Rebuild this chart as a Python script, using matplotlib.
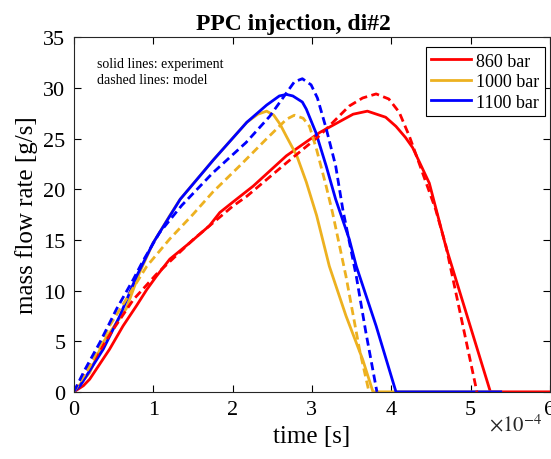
import numpy as np
import matplotlib
matplotlib.use("Agg")
import matplotlib.pyplot as plt

plt.rcParams['font.family'] = ['Liberation Serif', 'DejaVu Serif']
plt.rcParams['mathtext.fontset'] = 'stix'

# time in units of 1e-4 s, mass flow rate in g/s
t_860_exp = [0, 0.12, 0.2, 0.45, 0.62, 0.79, 0.92, 1.04, 1.21, 1.46, 1.71, 1.84, 2.0, 2.26,
             2.68, 3.1, 3.52, 3.7, 3.93, 4.06, 4.18, 4.27, 4.48, 4.69, 5.25, 6.0]
m_860_exp = [0, 0.6, 1.25, 4.2, 6.5, 8.5, 10.1, 11.4, 13.1, 14.7, 16.4, 17.7, 18.7, 20.3,
             23.3, 25.6, 27.4, 27.7, 27.1, 26.2, 25.1, 24.1, 20.6, 14.3, 0, 0]

t_860_mod = [0, 0.12, 0.29, 0.5, 0.75, 1.04, 1.5, 2.0, 2.18, 2.68, 3.1, 3.47, 3.64,
             3.81, 3.97, 4.1, 4.23, 4.35, 4.56, 4.69, 5.08]
m_860_mod = [0, 1.6, 3.6, 6.2, 9.1, 11.6, 15.0, 18.3, 19.3, 22.6, 25.3, 28.2, 29.0,
             29.4, 28.9, 27.6, 25.2, 22.6, 18.0, 14.4, 0]

t_1000_exp = [0, 0.2, 0.37, 0.66, 0.83, 1.0, 1.21, 1.34, 1.76, 2.18, 2.32, 2.43, 2.52, 2.6,
              2.68, 2.81, 2.93, 3.06, 3.22, 3.43, 3.64, 3.77, 5.38]
m_1000_exp = [0, 1.9, 4.9, 8.2, 11.8, 14.7, 17.4, 19.0, 22.9, 26.6, 27.4, 27.7, 27.3, 26.4,
              25.2, 23.3, 20.7, 17.4, 12.4, 7.5, 3.2, 0, 0]

t_1000_mod = [0, 0.2, 0.45, 0.92, 1.21, 1.5, 1.75, 2.09, 2.42, 2.68, 2.78, 2.89, 2.97,
              3.06, 3.18, 3.26, 3.43, 3.6, 3.72]
m_1000_mod = [0, 2.5, 6.5, 12.4, 15.1, 17.5, 19.7, 22.3, 24.9, 26.9, 27.3, 27.0, 26.2,
              23.9, 20.3, 17.7, 11.4, 4.2, 0]

t_1100_exp = [0, 0.08, 0.37, 0.58, 0.79, 1.0, 1.34, 1.76, 2.18, 2.43, 2.59, 2.68, 2.76,
              2.88, 2.93, 3.05, 3.18, 3.3, 3.47, 3.56, 3.81, 4.06, 5.38]
m_1100_exp = [0, 0.6, 4.2, 7.5, 11.4, 14.7, 19.0, 22.9, 26.6, 28.3, 29.2, 29.35, 29.2,
              28.6, 27.9, 25.6, 22.3, 19.0, 15.1, 12.4, 6.5, 0, 0]

t_1100_mod = [0, 0.14, 0.33, 0.54, 0.75, 0.87, 1.08, 1.36, 1.75, 2.17, 2.47, 2.68, 2.78,
              2.88, 2.99, 3.07, 3.18, 3.3, 3.39, 3.56, 3.68, 3.82]
m_1100_mod = [0, 2.2, 4.9, 8.2, 11.1, 12.9, 15.7, 18.4, 21.6, 24.6, 27.2, 29.5, 30.6,
              30.9, 30.3, 29.0, 26.0, 22.3, 18.0, 11.4, 5.9, 0]

labels = ['860 bar', '1000 bar', '1100 bar']
colors = ['#ff0000', '#edb120', '#0000ff']

fig = plt.figure(figsize=(5.51, 4.6), dpi=100)
ax = fig.add_axes([0.134, 0.146, 0.864, 0.771])

exp = [(t_860_exp, m_860_exp), (t_1000_exp, m_1000_exp), (t_1100_exp, m_1100_exp)]
mod = [(t_860_mod, m_860_mod), (t_1000_mod, m_1000_mod), (t_1100_mod, m_1100_mod)]

for (t, m), c, lab in zip(exp, colors, labels):
    ax.plot(np.array(t) * 1e-4, m, color=c, lw=2, label=lab)
for (t, m), c in zip(mod, colors):
    ax.plot(np.array(t) * 1e-4, m, color=c, lw=2, linestyle=(0, (2.9, 1.6)))

ax.set_xlim(0, 6e-4)
ax.set_ylim(0, 35)
ax.set_xticks(np.arange(0, 7) * 1e-4)
ax.set_xticklabels([str(i) for i in range(7)])
ax.set_yticks(np.arange(0, 36, 5))
ax.tick_params(direction='in', top=True, right=True, labelsize=16, length=5, width=0.8, pad=6)
for s in ax.spines.values():
    s.set_linewidth(0.8)
    s.set_color('#262626')

ax.set_title('PPC injection, di#2', fontsize=17, fontweight='bold', x=0.462, pad=6)
ax.set_xlabel('time [s]', fontsize=18, labelpad=4)
ax.set_ylabel('mass flow rate [g/s]', fontsize=18, labelpad=4)

ax.text(0.048, 0.945, 'solid lines: experiment\ndashed lines: model', transform=ax.transAxes,
        fontsize=10, va='top', ha='left', linespacing=1.35)

leg = ax.legend(loc='upper right', bbox_to_anchor=(0.99, 0.972), borderaxespad=0,
                fontsize=13, frameon=True, fancybox=False, edgecolor='black', framealpha=1,
                handlelength=2.2, handletextpad=0.3, borderpad=0.3, labelspacing=0.2)
leg.get_frame().set_linewidth(0.8)

fig.text(0.888, 0.062, r'$\times10^{-4}$', fontsize=15, ha='left', va='baseline', color='#262626')

fig.savefig('out.png', dpi=100)
